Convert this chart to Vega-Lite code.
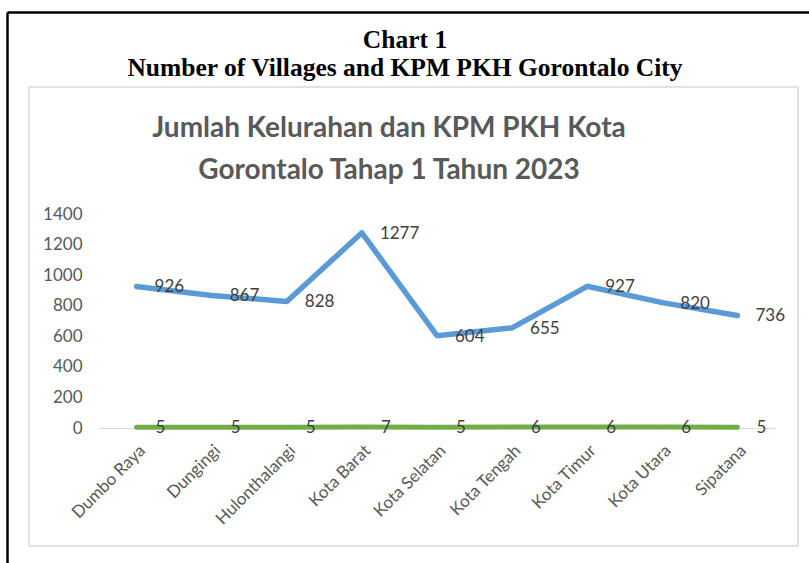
{
  "$schema": "https://vega.github.io/schema/vega-lite/v6.json",
  "width": 676,
  "height": 214,
  "autosize": "none",
  "padding": {"top": 214, "left": 99, "right": 34, "bottom": 135},
  "background": "white",
  "view": {"stroke": null},
  "config": {
    "axisX": {
      "domain": true, "domainColor": "#d9d9d9", "domainWidth": 1,
      "ticks": false, "tickSize": 0, "grid": false,
      "labelAngle": -45, "labelFont": "Lato", "labelFontSize": 17, "labelColor": "#595959",
      "labelPadding": 14
    },
    "axisY": {
      "domain": false, "ticks": false, "tickSize": 0,
      "grid": true, "gridColor": "#d9d9d9", "gridWidth": 1,
      "labelFont": "Lato", "labelFontSize": 17, "labelColor": "#595959",
      "labelPadding": 17
    }
  },
  "title": {
    "text": ["Chart 1", "Number of Villages and KPM PKH Gorontalo City"],
    "font": "Liberation Serif",
    "fontWeight": "bold",
    "fontSize": 25.5,
    "lineHeight": 28,
    "color": "black",
    "anchor": "middle",
    "frame": "group",
    "offset": -70,
    "dx": -32
  },
  "data": {
    "values": [
      {"kelurahan": "Dumbo Raya", "kpm": 926, "jumlah": 5},
      {"kelurahan": "Dungingi", "kpm": 867, "jumlah": 5},
      {"kelurahan": "Hulonthalangi", "kpm": 828, "jumlah": 5},
      {"kelurahan": "Kota Barat", "kpm": 1277, "jumlah": 7},
      {"kelurahan": "Kota Selatan", "kpm": 604, "jumlah": 5},
      {"kelurahan": "Kota Tengah", "kpm": 655, "jumlah": 6},
      {"kelurahan": "Kota Timur", "kpm": 927, "jumlah": 6},
      {"kelurahan": "Kota Utara", "kpm": 820, "jumlah": 6},
      {"kelurahan": "Sipatana", "kpm": 736, "jumlah": 5}
    ]
  },
  "resolve": {"scale": {"x": "independent", "y": "independent"}, "axis": {"x": "independent", "y": "independent"}},
  "layer": [
    {
      "layer": [
        {
          "data": {"values": [{}]},
          "mark": {"type": "rect", "fill": null, "stroke": "#d9d9d9", "strokeWidth": 1.5},
          "encoding": {
            "x": {"datum": -1.432, "type": "quantitative", "scale": {"domain": [-0.5, 8.5], "nice": false, "zero": false}, "axis": null},
            "x2": {"datum": 8.8063},
            "y": {"datum": 2230.8, "type": "quantitative", "scale": {"domain": [0, 1400], "nice": false, "zero": false}, "axis": null},
            "y2": {"datum": -772}
          }
        },
        {
          "data": {"values": [{}]},
          "mark": {"type": "rule", "stroke": "black", "strokeWidth": 2.5},
          "encoding": {
            "x": {"datum": -1.7182, "type": "quantitative", "scale": {"domain": [-0.5, 8.5], "nice": false, "zero": false}, "axis": null},
            "y": {"datum": 2718.2, "type": "quantitative", "scale": {"domain": [0, 1400], "nice": false, "zero": false}, "axis": null},
            "y2": {"datum": -1500}
          }
        },
        {
          "data": {"values": [{}]},
          "mark": {"type": "rule", "stroke": "black", "strokeWidth": 2.5},
          "encoding": {
            "x": {"datum": -1.7182, "type": "quantitative", "scale": {"domain": [-0.5, 8.5], "nice": false, "zero": false}, "axis": null},
            "x2": {"datum": 12},
            "y": {"datum": 2718.2, "type": "quantitative", "scale": {"domain": [0, 1400], "nice": false, "zero": false}, "axis": null}
          }
        },
        {
          "data": {"values": [{}]},
          "mark": {
            "type": "text",
            "text": ["Jumlah Kelurahan dan KPM PKH Kota", "Gorontalo Tahap 1 Tahun 2023"],
            "font": "Lato",
            "fontWeight": "bold",
            "fontSize": 28,
            "lineHeight": 42,
            "color": "#595959",
            "align": "center",
            "baseline": "alphabetic"
          },
          "encoding": {
            "x": {"datum": 3.361, "type": "quantitative", "scale": {"domain": [-0.5, 8.5], "nice": false, "zero": false}, "axis": null},
            "y": {"datum": 1903.7, "type": "quantitative", "scale": {"domain": [0, 1400], "nice": false, "zero": false}, "axis": null}
          }
        }
      ]
    },
    {
      "layer": [
        {
          "mark": {"type": "line", "stroke": "#5B9BD5", "strokeWidth": 5.5, "strokeJoin": "round", "strokeCap": "round"},
          "encoding": {
            "x": {"field": "kelurahan", "type": "nominal", "sort": null, "scale": {"type": "point", "padding": 0.5}, "axis": {"title": null}},
            "y": {"field": "kpm", "type": "quantitative", "scale": {"domain": [0, 1400], "nice": false, "zero": false}, "axis": {"title": null, "format": "d", "values": [0, 200, 400, 600, 800, 1000, 1200, 1400]}}
          }
        },
        {
          "mark": {"type": "text", "align": "left", "baseline": "middle", "dx": 18, "dy": 1, "font": "Lato", "fontSize": 17, "color": "#404040"},
          "encoding": {
            "x": {"field": "kelurahan", "type": "nominal", "sort": null, "scale": {"type": "point", "padding": 0.5}, "axis": {"title": null}},
            "y": {"field": "kpm", "type": "quantitative", "scale": {"domain": [0, 1400], "nice": false, "zero": false}, "axis": {"title": null, "format": "d", "values": [0, 200, 400, 600, 800, 1000, 1200, 1400]}},
            "text": {"field": "kpm", "type": "quantitative"}
          }
        },
        {
          "mark": {"type": "line", "stroke": "#70AD47", "strokeWidth": 5, "strokeJoin": "round", "strokeCap": "round"},
          "encoding": {
            "x": {"field": "kelurahan", "type": "nominal", "sort": null, "scale": {"type": "point", "padding": 0.5}, "axis": {"title": null}},
            "y": {"field": "jumlah", "type": "quantitative", "scale": {"domain": [0, 1400], "nice": false, "zero": false}, "axis": {"title": null, "format": "d", "values": [0, 200, 400, 600, 800, 1000, 1200, 1400]}}
          }
        },
        {
          "mark": {"type": "text", "align": "left", "baseline": "middle", "dx": 19, "dy": 1, "font": "Lato", "fontSize": 17, "color": "#404040"},
          "encoding": {
            "x": {"field": "kelurahan", "type": "nominal", "sort": null, "scale": {"type": "point", "padding": 0.5}, "axis": {"title": null}},
            "y": {"field": "jumlah", "type": "quantitative", "scale": {"domain": [0, 1400], "nice": false, "zero": false}, "axis": {"title": null, "format": "d", "values": [0, 200, 400, 600, 800, 1000, 1200, 1400]}},
            "text": {"field": "jumlah", "type": "quantitative"}
          }
        }
      ]
    }
  ]
}
